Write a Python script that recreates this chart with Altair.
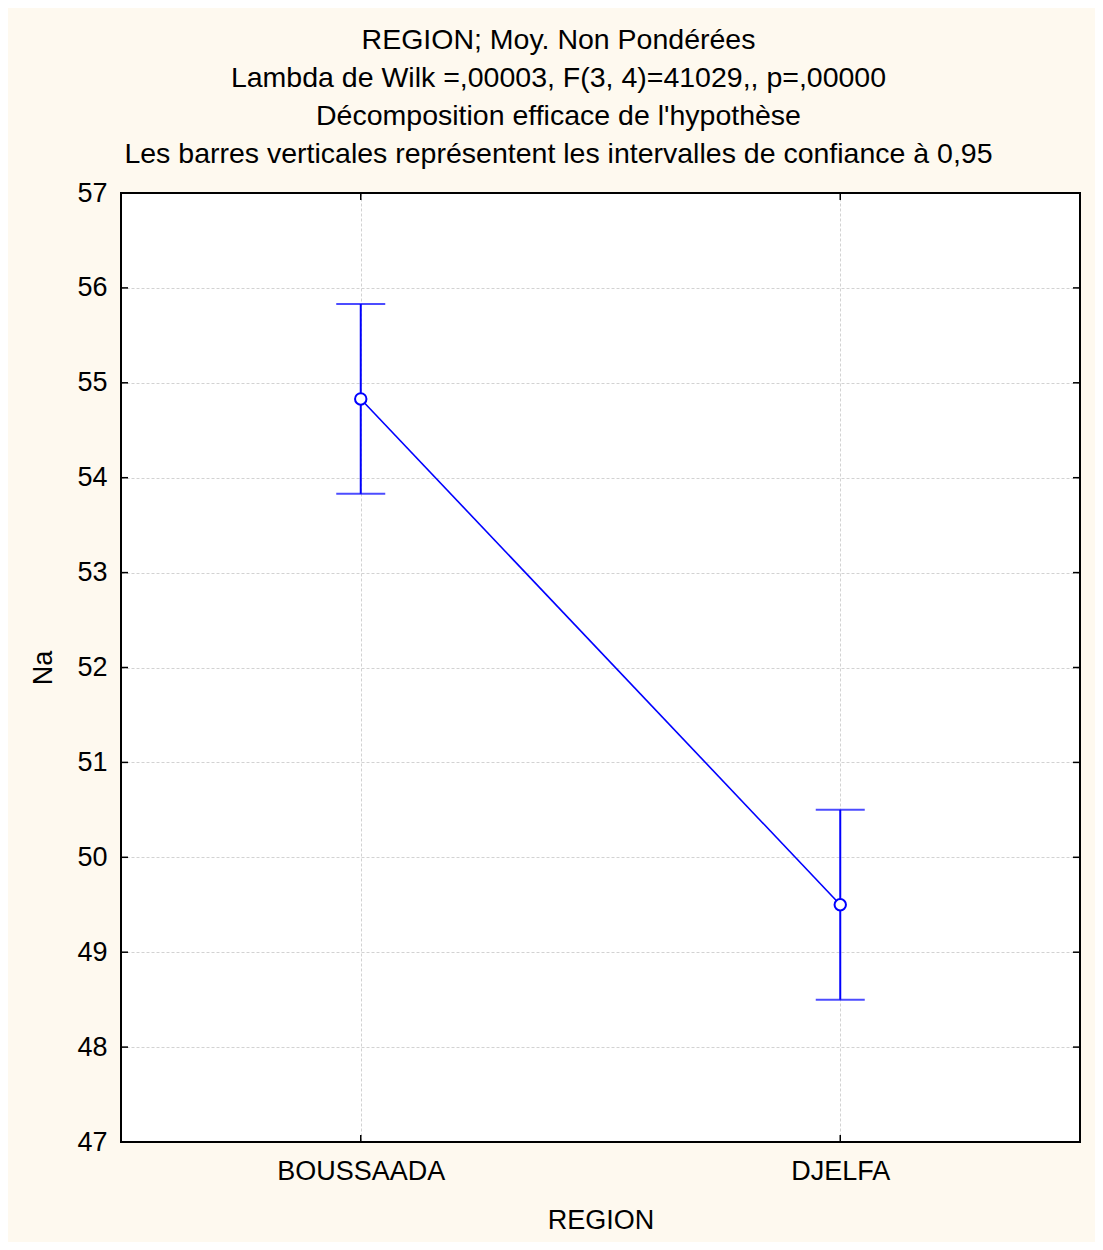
import altair as alt
import pandas as pd

regions = ["BOUSSAADA", "DJELFA"]
means = [54.83, 49.50]
lower = [53.83, 48.50]
upper = [55.83, 50.50]
y_ticks = [47, 48, 49, 50, 51, 52, 53, 54, 55, 56, 57]

title_lines = [
    "REGION; Moy. Non Pondérées",
    "Lambda de Wilk =,00003, F(3, 4)=41029,, p=,00000",
    "Décomposition efficace de l'hypothèse",
    "Les barres verticales représentent les intervalles de confiance à 0,95",
]

df = pd.DataFrame({"REGION": regions, "Na": means, "lo": lower, "hi": upper})
ticks_df = pd.DataFrame({"Na": y_ticks})
reg_df = pd.DataFrame({"REGION": regions})
frame_df = pd.DataFrame({"k": [0]})

W, H = 959, 949
FONT = "Liberation Sans"
BLUE = "#0000FF"

y_axis = alt.Axis(values=y_ticks, title="Na", grid=True, ticks=False, domain=False,
                  labelPadding=14, titlePadding=19)
x_axis = alt.Axis(title="REGION", grid=True, ticks=False, domain=False, labelAngle=0,
                  labelPadding=16, titlePadding=23)
y_scale = alt.Scale(domain=[47, 57], nice=False, zero=False)
x_scale = alt.Scale(type="point", padding=0.5, domain=regions)


def Y(field):
    return alt.Y(f"{field}:Q", scale=y_scale, axis=y_axis, title="Na")


def Y2(field):
    return alt.Y2(f"{field}:Q")


def X():
    return alt.X("REGION:N", scale=x_scale, axis=x_axis, title="REGION", sort=regions)


base = alt.Chart(df)

err = base.mark_rule(color=BLUE, strokeWidth=2).encode(x=X(), y=Y("lo"), y2=Y2("hi"))
cap_lo = base.mark_tick(color=BLUE, size=49, thickness=2, orient="horizontal").encode(x=X(), y=Y("lo"))
cap_hi = base.mark_tick(color=BLUE, size=49, thickness=2, orient="horizontal").encode(x=X(), y=Y("hi"))
line = base.mark_line(color=BLUE, strokeWidth=1.6).encode(x=X(), y=Y("Na"))
pts = base.mark_point(shape="circle", filled=False, fill="white", fillOpacity=1,
                      stroke=BLUE, strokeWidth=2, size=130, opacity=1).encode(x=X(), y=Y("Na"))

tick_l = alt.Chart(ticks_df).mark_rule(color="black", strokeWidth=1.5).encode(
    y=Y("Na"), x=alt.value(0), x2=alt.value(7))
tick_r = alt.Chart(ticks_df).mark_rule(color="black", strokeWidth=1.5).encode(
    y=Y("Na"), x=alt.value(W - 7), x2=alt.value(W))
tick_t = alt.Chart(reg_df).mark_rule(color="black", strokeWidth=1.5).encode(
    x=X(), y=alt.value(0), y2=alt.value(7))
tick_b = alt.Chart(reg_df).mark_rule(color="black", strokeWidth=1.5).encode(
    x=X(), y=alt.value(H - 7), y2=alt.value(H))
frame = alt.Chart(frame_df).mark_rect(fill=None, fillOpacity=0, stroke="black", strokeWidth=2).encode(
    x=alt.value(0), x2=alt.value(W), y=alt.value(0), y2=alt.value(H))

chart = alt.layer(err, cap_lo, cap_hi, line, pts, tick_l, tick_r, tick_t, tick_b, frame).properties(
    width=W, height=H,
    title=alt.TitleParams(text=title_lines, fontSize=28.5, font=FONT, fontWeight="normal",
                          color="black", lineHeight=38, anchor="middle", dx=-42, offset=-18,
                          baseline="bottom"),
    autosize=alt.AutoSizeParams(type="none"),
    padding={"left": 113, "top": 185, "right": 15, "bottom": 100},
).configure(background="#FEF9EF").configure_view(
    fill="white", stroke=None
).configure_axis(
    labelFont=FONT, titleFont=FONT, labelFontSize=27, titleFontSize=27,
    labelColor="black", titleColor="black", titleFontWeight="normal",
    gridColor="#d2d2d2", gridDash=[3, 2], gridWidth=1,
)

chart.save("out.html", embed_options={"renderer": "svg", "actions": False})
